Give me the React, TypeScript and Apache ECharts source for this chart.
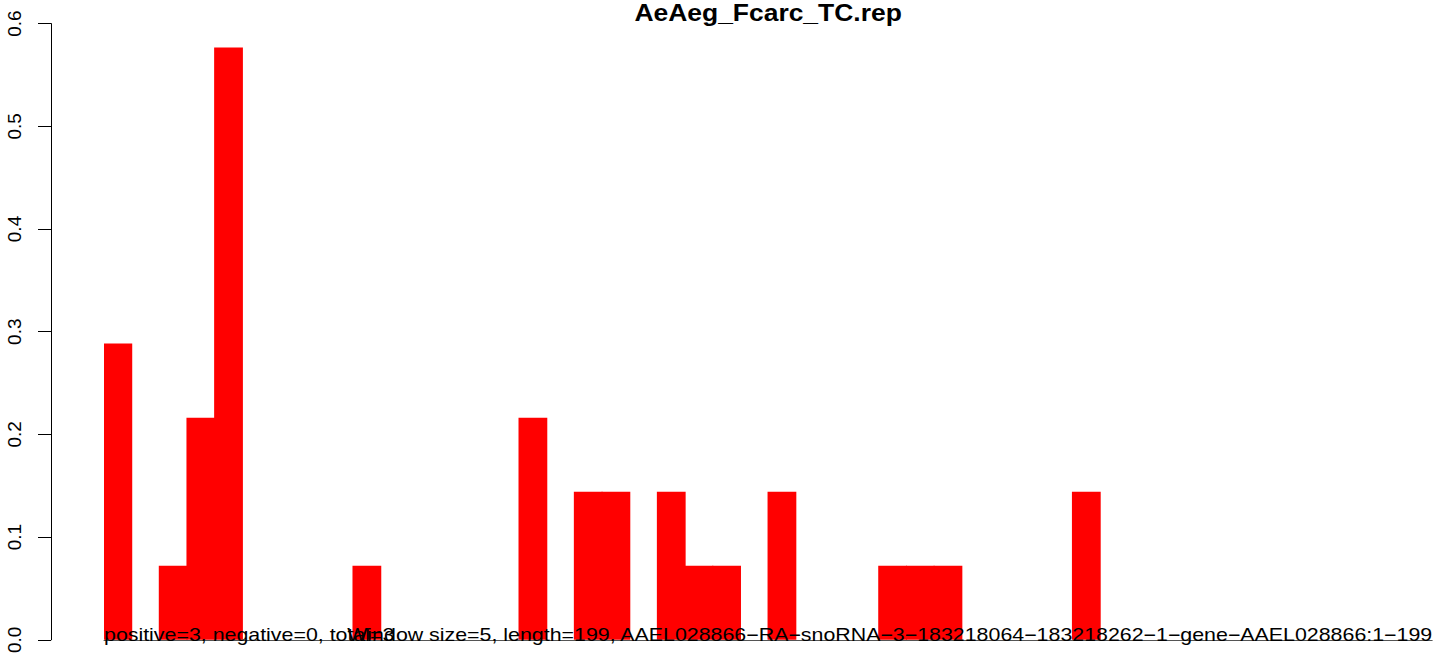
import React, { useEffect, useRef } from "react";
import * as echarts from "echarts";

const TITLE = "AeAeg_Fcarc_TC.rep";
const LEFT_NOTE = "positive=3, negative=0, total=3";
const RIGHT_NOTE =
  "Window size=5, length=199, AAEL028866\u2212RA\u2212snoRNA\u22123\u2212183218064\u2212183218262\u22121\u2212gene\u2212AAEL028866:1\u2212199";

const categories = [
  "1", "2", "3", "4", "5", "6", "7", "8", "9", "10", "11", "12",
  "13", "14", "15", "16", "17", "18", "19", "20", "21", "22", "23", "24",
  "25", "26", "27", "28", "29", "30", "31", "32", "33", "34", "35", "36",
  "37", "38", "39", "40", "41", "42", "43", "44", "45", "46", "47", "48",
];

const values = [
  0.2884, 0, 0.0721, 0.2163, 0.5768, 0, 0, 0, 0, 0.0721, 0, 0,
  0, 0, 0, 0.2163, 0, 0.1442, 0.1442, 0, 0.1442, 0.0721, 0.0721, 0,
  0.1442, 0, 0, 0, 0.0721, 0.0721, 0.0721, 0, 0, 0, 0, 0.1442,
  0, 0, 0, 0, 0, 0, 0, 0, 0, 0, 0, 0,
];

const yMin = 0;
const yMax = 0.6;
const yStep = 0.1;

const FONT = "'Liberation Sans', Arial, Helvetica, sans-serif";

export default function App() {
  const ref = useRef<HTMLDivElement>(null);
  useEffect(() => {
    if (!ref.current) return;
    const chart = echarts.init(ref.current, undefined, { renderer: "svg" });
    const gridLeft = 104;
    const gridRight = 11.8;
    const plotRight = 1444 - gridRight;
    chart.setOption({
      animation: false,
      backgroundColor: "#ffffff",
      grid: { left: gridLeft, right: gridRight, top: 23.6, bottom: 12, containLabel: false },
      xAxis: {
        type: "category",
        data: categories,
        boundaryGap: true,
        axisLine: { show: true, lineStyle: { color: "#555555", width: 1 } },
        axisTick: { show: false },
        axisLabel: { show: false },
        splitLine: { show: false },
      },
      yAxis: {
        type: "value",
        min: yMin,
        max: yMax,
        interval: yStep,
        offset: 53,
        axisLine: { show: true, lineStyle: { color: "#000", width: 1 } },
        axisTick: { show: true, length: 13, lineStyle: { color: "#000", width: 1 } },
        splitLine: { show: false },
        axisLabel: {
          rotate: 90,
          fontSize: 19,
          fontFamily: FONT,
          color: "#000",
          margin: 27,
          formatter: (v: number) => v.toFixed(1),
        },
      },
      series: [
        {
          type: "bar",
          data: values,
          barWidth: "104%",
          itemStyle: { color: "#ff0000" },
        },
      ],
      graphic: [
        {
          type: "text",
          z: 100,
          x: (gridLeft + plotRight) / 2,
          y: 13,
          scaleX: 1.15,
          style: {
            text: TITLE,
            fontSize: 23,
            fontWeight: "bold",
            fontFamily: FONT,
            fill: "#000",
            align: "center",
            verticalAlign: "middle",
          },
        },
        {
          type: "text",
          z: 100,
          x: gridLeft,
          y: 635,
          scaleX: 1.187,
          style: {
            text: LEFT_NOTE,
            fontSize: 18,
            fontFamily: FONT,
            fill: "#000",
            align: "left",
            verticalAlign: "middle",
          },
        },
        {
          type: "text",
          z: 100,
          x: plotRight,
          y: 635,
          scaleX: 1.187,
          style: {
            text: RIGHT_NOTE,
            fontSize: 18,
            fontFamily: FONT,
            fill: "#000",
            align: "right",
            verticalAlign: "middle",
          },
        },
      ],
    });
    return () => chart.dispose();
  }, []);
  return (
    <div
      ref={ref}
      style={{ position: "fixed", left: 0, top: 0, width: 1444, height: 656 }}
    />
  );
}
